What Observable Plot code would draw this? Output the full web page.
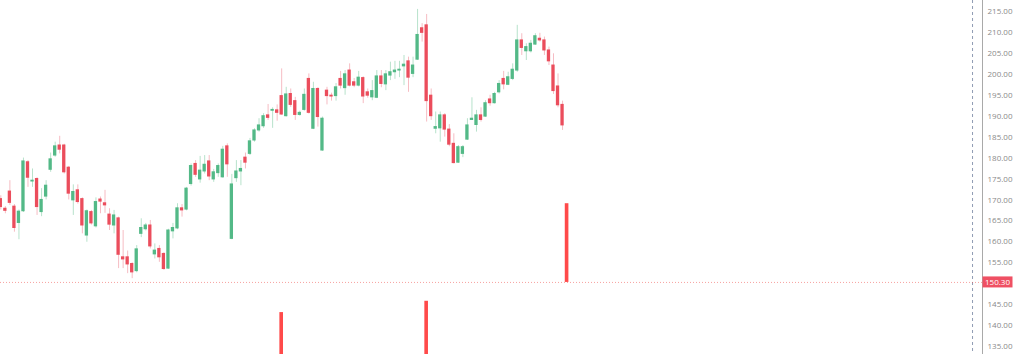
<!DOCTYPE html>
<html><head><meta charset="utf-8">
<script src="https://cdn.jsdelivr.net/npm/d3@7"></script>
<script src="https://cdn.jsdelivr.net/npm/@observablehq/plot@0.6"></script>
<style>body{margin:0;background:#fff;overflow:hidden}</style>
</head><body><div id="chart"></div>
<script>
const opens = [170.2,167.9,172.0,168.4,164.5,167.3,179.0,174.4,175.0,167.1,
170.8,177.2,180.6,183.0,183.0,177.7,169.9,172.3,170.2,161.5,
167.1,163.7,170.1,169.2,166.5,163.9,165.6,156.3,156.3,154.7,
153.0,161.9,163.0,163.9,157.0,158.3,157.1,153.6,162.5,163.2,
168.0,167.7,173.8,178.6,174.9,176.8,179.2,174.9,176.4,175.4,
182.8,160.7,175.2,176.8,180.1,181.0,184.2,186.6,187.6,190.2,
191.3,191.4,194.8,190.0,195.3,193.6,190.3,191.5,198.9,187.0,
196.5,181.8,196.1,194.9,194.8,198.9,196.7,200.9,198.1,197.3,
199.1,195.7,194.5,194.4,199.5,197.6,199.7,200.5,200.9,201.9,
203.1,200.1,203.5,211.0,211.7,194.9,187.0,187.1,190.2,186.8,
183.4,178.9,181.0,184.4,189.1,187.9,190.2,189.9,194.0,193.1,
195.7,198.9,197.5,198.9,200.9,208.1,205.5,205.5,207.1,208.5,
208.1,205.7,202.1,197.1,192.7];
const closes = [168.3,167.4,169.3,163.3,167.2,179.2,175.3,174.6,168.3,170.0,
173.4,179.7,182.8,182.0,176.6,171.5,171.9,169.5,163.9,167.3,
164.4,169.5,169.6,168.7,164.1,166.3,156.9,155.8,154.6,152.7,
158.2,163.3,163.9,158.9,157.9,156.3,153.5,162.7,163.3,168.0,
167.5,172.7,178.1,176.0,177.0,178.4,175.6,176.6,178.1,182.0,
178.5,173.7,176.8,177.4,178.9,184.0,186.6,187.8,190.0,189.6,
191.5,190.8,190.4,195.2,192.7,190.3,190.8,195.1,190.8,196.5,
189.8,189.4,194.8,194.7,196.9,197.3,200.0,197.3,197.3,199.2,
194.7,194.9,196.0,199.5,197.7,200.0,200.5,200.9,201.1,202.3,
199.2,202.1,209.4,209.9,193.6,190.0,187.4,190.2,186.8,183.2,
178.8,182.6,182.6,187.8,189.4,190.2,189.1,193.1,193.1,195.3,
197.7,197.6,199.3,201.1,208.1,206.3,206.5,207.3,209.1,208.1,
205.7,203.1,196.0,192.6,187.8];
const highs = [171.0,168.4,174.6,168.9,167.6,180.0,179.4,177.4,175.3,172.7,
174.6,181.2,183.8,185.2,183.3,178.0,173.6,173.6,170.5,167.6,
167.5,170.5,170.7,172.3,167.9,167.5,165.9,162.7,157.8,155.0,
159.1,165.5,164.4,165.1,159.5,159.1,157.4,163.0,164.4,169.1,
168.9,173.0,178.6,179.4,180.4,180.6,180.6,177.3,178.6,182.8,
183.4,176.1,179.4,179.4,181.2,184.7,187.0,189.4,190.6,192.8,
192.0,192.7,201.3,196.9,196.5,194.5,191.2,196.5,200.1,198.1,
196.8,189.8,196.9,195.5,197.8,200.7,200.9,202.5,199.0,200.7,
199.4,196.5,198.5,200.9,200.9,200.9,202.9,203.1,203.1,204.5,
204.1,204.1,215.5,212.1,214.3,196.5,191.0,191.0,190.6,188.0,
185.8,183.0,183.0,189.4,194.4,191.4,192.0,193.7,195.0,195.7,
198.5,200.7,200.5,202.5,211.7,209.7,207.3,208.1,209.7,209.8,
208.9,206.5,204.9,200.1,193.6];
const lows = [167.6,166.7,168.7,162.3,160.5,167.0,173.0,173.0,166.3,166.0,
170.0,176.6,180.2,181.0,176.2,170.0,166.3,169.0,161.9,159.9,
164.0,163.3,166.7,166.8,162.7,161.9,153.6,153.6,152.4,151.2,
152.6,161.0,162.6,158.3,155.9,155.1,153.2,153.4,160.7,162.9,
165.9,167.4,173.3,175.4,174.0,176.2,174.6,174.2,175.4,175.2,
175.4,160.5,174.2,173.4,177.4,180.6,183.8,186.2,187.1,189.0,
187.1,188.8,190.2,189.8,192.1,189.0,190.0,191.2,190.5,186.8,
187.4,181.6,192.7,193.6,193.6,196.5,195.0,197.0,196.8,197.0,
193.0,194.3,193.7,194.2,196.8,196.1,198.5,198.8,199.2,197.3,
195.7,199.2,203.3,207.7,188.6,189.0,185.8,183.8,185.0,182.7,
178.6,178.7,180.1,184.2,189.0,186.2,188.6,189.7,192.4,192.9,
195.3,196.3,197.3,198.5,200.5,204.5,203.3,205.1,206.9,207.7,
204.5,202.1,195.2,192.0,186.6];

const priceTicks = [135,140,145,155,160,165,170,175,180,185,190,195,200,205,210,215];
const lastPrice = 150.30;
const markerIndex = 214.5;
const spikeIndex = [62, 94, 125];
const spikeTop = [143.1, 145.8, 169.1];
const spikeBase = [125, 125, 150.3];

const xMin = -0.07, xMax = 216.7;
const yMin = 133.09, yMax = 217.63;

const UP = "#53b987", DOWN = "#eb4d5c";
const UP_WICK = "#b7e2cb", DOWN_WICK = "#f6bcc3";

const candles = opens.map((o, i) => ({i, open: o, close: closes[i], high: highs[i], low: lows[i], up: closes[i] >= o}));
const spikes = spikeIndex.map((x, k) => ({i: x, top: spikeTop[k], base: spikeBase[k]}));
const hw = 0.365;

const plot = Plot.plot({
  width: 1024, height: 354,
  marginTop: 0, marginBottom: 0, marginLeft: 0, marginRight: 42,
  style: {fontFamily: "Open Sans, sans-serif", background: "#fff"},
  x: {domain: [xMin, xMax], axis: null},
  y: {domain: [yMin, yMax], axis: null},
  marks: [
    Plot.ruleX([markerIndex], {stroke: "#8f9bb3", strokeDasharray: "3,3", strokeWidth: 1}),
    Plot.ruleY([lastPrice], {stroke: "#ef5350", strokeOpacity: 0.55, strokeDasharray: "1,2", strokeWidth: 1}),
    Plot.ruleX(candles, {x: "i", y1: "low", y2: "high", stroke: d => d.up ? UP_WICK : DOWN_WICK, strokeWidth: 1}),
    Plot.rect(candles, {x1: d => d.i - hw, x2: d => d.i + hw, y1: "open", y2: "close",
      fill: d => d.up ? UP : DOWN, insetTop: -0.5, insetBottom: -0.5}),
    Plot.rect(spikes, {x1: d => d.i - 0.4, x2: d => d.i + 0.4, y1: "base", y2: "top", fill: "#ff4a4a", clip: true}),
    Plot.ruleX([xMax], {stroke: "#a9a9a9", strokeWidth: 1}),
    Plot.axisY(priceTicks, {anchor: "right", tickSize: 0, tickPadding: 5, tickFormat: d => d.toFixed(2),
      fontSize: 8, fill: "#8a8a8a", label: null})
  ]
});

const ys = plot.scale("y");
const xs = plot.scale("x");
const svg = d3.select(plot);
const yp = ys.apply(lastPrice);
const xp = xs.apply(xMax);
svg.append("rect").attr("x", xp + 0.5).attr("y", yp - 5.5).attr("width", 30).attr("height", 11).attr("fill", "#ef5063");
svg.append("text").attr("x", xp + 15.5).attr("y", yp).attr("dy", "0.35em").attr("text-anchor", "middle")
  .attr("fill", "#fff").attr("font-size", 8).attr("font-family", "Open Sans, sans-serif").text(lastPrice.toFixed(2));

document.getElementById("chart").appendChild(plot);
</script>
</body></html>
